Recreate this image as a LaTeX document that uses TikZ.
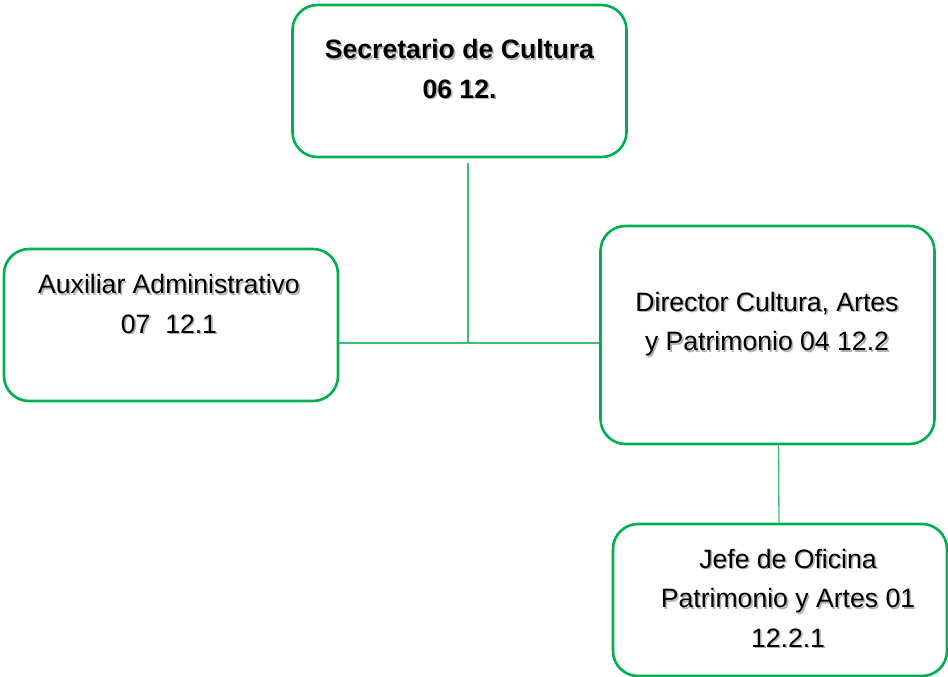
\documentclass[tikz,border=0pt]{standalone}
\usepackage{fontspec}
\setmainfont{Liberation Sans}
\usetikzlibrary{positioning, calc}
\definecolor{boxgreen}{RGB}{0,176,80}
\definecolor{linkgreen}{RGB}{60,190,110}
\tikzstyle{Box} = [draw=boxgreen, line width=2.6pt, rounded corners=25pt,
    minimum width=334pt, inner sep=0pt]
\tikzstyle{Txt} = [align=center, inner sep=0pt,
    font=\fontsize{26.6}{39.5}\selectfont]
\tikzstyle{Link} = [draw=linkgreen, line width=1.3pt]
\newcommand{\boxtext}[3]{%
    \node[Txt, text=black!30] at ([xshift=1.6pt, yshift=-1.6pt]#2) {#3};
    \node[Txt] (#1) at (#2) {#3};}

\begin{document}
\begin{tikzpicture}[x=1pt, y=-1pt]
    \useasboundingbox (0,0) rectangle (948,677);
    \node[Box, minimum height=152pt] (sec) at (459.5,81) {};
    \node[Box, minimum height=152pt] (aux) at (171,325) {};
    \node[Box, minimum height=218pt] (dir) at (767.5,335) {};
    \node[Box, minimum height=152pt] (jefe) at (780,600) {};

    \boxtext{sec-t}{459.5,69}{\textbf{Secretario de Cultura}\\ \textbf{06 12.}}
    \boxtext{aux-t}{169,304}{Auxiliar Administrativo\\ 07\ \ 12.1}
    \boxtext{dir-t}{767,324}{Director Cultura, Artes\\ y Patrimonio 04 12.2}
    \boxtext{jefe-t}{788,598}{Jefe de Oficina\\ Patrimonio y Artes 01\\ 12.2.1}

    \coordinate (j) at (468,343);
    \draw[Link] ([yshift=-5pt]j |- sec.south) -- (j);
    \draw[Link] (aux.east |- j) -- (dir.west |- j);
    \draw[Link] ([xshift=11pt]dir.south) -- ([xshift=-1pt]jefe.north);
\end{tikzpicture}
\end{document}
